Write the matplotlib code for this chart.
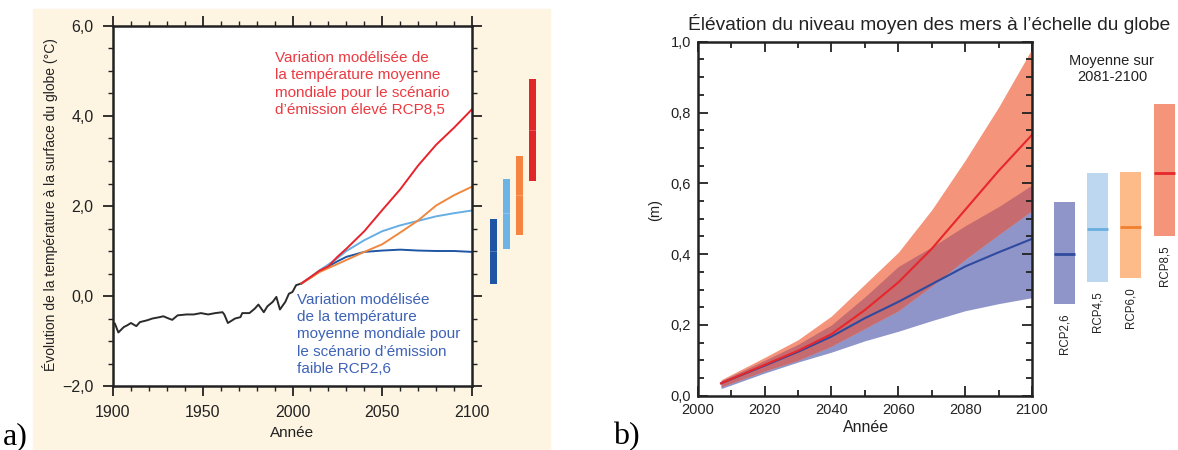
import numpy as np
import matplotlib
matplotlib.use("Agg")
import matplotlib.pyplot as plt
from matplotlib.patches import Rectangle
from matplotlib.ticker import MultipleLocator, FuncFormatter

plt.rcParams["font.family"] = ["Liberation Sans", "DejaVu Sans"]

# ──────────────────────────────────────────────────
# Panel a) : global surface temperature change (°C)
# ──────────────────────────────────────────────────
hist_years = [1900, 1901, 1903, 1906, 1908, 1910, 1913, 1915, 1919, 1922, 1926, 1928,
              1931, 1933, 1936, 1941, 1945, 1949, 1953, 1957, 1961, 1962, 1964, 1968,
              1971, 1972, 1976, 1979, 1981, 1984, 1986, 1989, 1991, 1993, 1996, 1998,
              2000, 2002, 2005]
hist_temp = [-0.61, -0.61, -0.81, -0.69, -0.65, -0.60, -0.67, -0.58, -0.54, -0.50, -0.47, -0.45,
             -0.50, -0.53, -0.43, -0.41, -0.41, -0.38, -0.41, -0.38, -0.36, -0.41, -0.60, -0.50,
             -0.47, -0.38, -0.38, -0.28, -0.19, -0.36, -0.23, -0.13, -0.02, -0.30, -0.13, 0.05,
             0.09, 0.24, 0.28]

proj_years = [2005, 2010, 2015, 2020, 2025, 2030, 2040, 2050, 2060, 2070, 2080, 2090, 2100]
rcp85_temp = [0.28, 0.42, 0.56, 0.66, 0.87, 1.05, 1.44, 1.91, 2.37, 2.90, 3.36, 3.74, 4.15]
rcp60_temp = [0.28, 0.40, 0.53, 0.62, 0.71, 0.80, 0.98, 1.15, 1.41, 1.68, 2.01, 2.24, 2.43]
rcp45_temp = [0.28, 0.42, 0.57, 0.70, 0.84, 1.00, 1.24, 1.44, 1.57, 1.67, 1.77, 1.84, 1.90]
rcp26_temp = [0.28, 0.41, 0.55, 0.66, 0.77, 0.87, 0.98, 1.01, 1.03, 1.01, 1.00, 1.00, 0.98]

# 2081-2100 ranges (low, high, mean), order RCP2.6, 4.5, 6.0, 8.5
temp_low = [0.27, 1.04, 1.36, 2.56]
temp_high = [1.71, 2.60, 3.11, 4.82]
temp_mean = [1.00, 1.84, 2.24, 3.69]

# ──────────────────────────────────────────────────
# Panel b) : global mean sea level rise (m)
# ──────────────────────────────────────────────────
sl_years = [2007, 2020, 2030, 2040, 2050, 2060, 2070, 2080, 2090, 2100]
rcp85_sl = [0.035, 0.087, 0.127, 0.174, 0.242, 0.320, 0.415, 0.525, 0.635, 0.737]
rcp85_hi = [0.045, 0.108, 0.158, 0.225, 0.315, 0.405, 0.525, 0.665, 0.815, 0.980]
rcp85_lo = [0.025, 0.070, 0.100, 0.140, 0.190, 0.240, 0.310, 0.385, 0.455, 0.523]
rcp26_sl = [0.035, 0.085, 0.124, 0.167, 0.219, 0.265, 0.315, 0.365, 0.405, 0.443]
rcp26_hi = [0.042, 0.100, 0.145, 0.200, 0.279, 0.365, 0.420, 0.480, 0.534, 0.595]
rcp26_lo = [0.020, 0.064, 0.095, 0.123, 0.155, 0.182, 0.212, 0.240, 0.260, 0.277]

scenarios = ["RCP2,6", "RCP4,5", "RCP6,0", "RCP8,5"]
sl_low = [0.259, 0.322, 0.332, 0.452]
sl_high = [0.546, 0.628, 0.633, 0.824]
sl_mean = [0.399, 0.470, 0.477, 0.628]

W, H = 1178, 450
fig = plt.figure(figsize=(W / 100, H / 100), dpi=100)

# beige frame behind panel a
fig.patches.append(Rectangle((33 / W, 0), (550 - 33) / W, (H - 9) / H,
                             transform=fig.transFigure, color="#fdf4e1", zorder=-10))

comma = FuncFormatter(lambda v, p: f"{v:.1f}".replace(".", ",").replace("-", "\u2212"))

# ---------------- panel a ----------------
ax = fig.add_axes([113 / W, 1 - 386 / H, (472 - 113) / W, 360 / H])
ax.set_facecolor("white")
ax.plot(hist_years, hist_temp, color="#2b2b2b", lw=1.4)
ax.plot(proj_years, rcp26_temp, color="#1f56a3", lw=1.4)
ax.plot(proj_years, rcp45_temp, color="#67aee3", lw=1.4)
ax.plot(proj_years, rcp60_temp, color="#f0873f", lw=1.4)
ax.plot(proj_years, rcp85_temp, color="#e8232b", lw=1.4)

bar_cols = ["#1f56a3", "#6cb3e6", "#f4843f", "#e1262a"]
for i in range(4):
    xc = 2112 + 7.3 * i
    ax.bar(xc, temp_high[i] - temp_low[i], bottom=temp_low[i], width=4.0,
           color=bar_cols[i], clip_on=False, zorder=3)
    # faint mean marker
    ax.plot([xc - 2, xc + 2], [temp_mean[i]] * 2, color="white", alpha=0.25, lw=0.6,
            clip_on=False, zorder=4)

ax.set_xlim(1900, 2100)
ax.set_ylim(-2, 6)
ax.xaxis.set_major_locator(MultipleLocator(50))
ax.xaxis.set_minor_locator(MultipleLocator(10))
ax.yaxis.set_major_locator(MultipleLocator(2))
ax.yaxis.set_minor_locator(MultipleLocator(0.5))
ax.yaxis.set_major_formatter(comma)
ax.tick_params(which="both", direction="out", top=True, right=True, width=1.3,
               labelsize=11.5, colors="#222222")
ax.tick_params(which="major", length=7, pad=7)
ax.tick_params(which="minor", length=3.5, width=1.0)
for s in ax.spines.values():
    s.set_linewidth(1.8)
    s.set_color("#222222")

ax.text(1990.2, 5.44, "Variation modélisée de\nla température moyenne\nmondiale pour le scénario\n"
        "d’émission élevé RCP8,5", color="#ec3a41", fontsize=11, va="top", ha="left",
        linespacing=1.3)
ax.text(2002.3, 0.07, "Variation modélisée\nde la température\nmoyenne mondiale pour\n"
        "le scénario d’émission\nfaible RCP2,6", color="#3d62b6", fontsize=11, va="top",
        ha="left", linespacing=1.3)

fig.text(50 / W, 1 - 205 / H, "Évolution de la température à la surface du globe (°C)",
         rotation=90, ha="center", va="center", fontsize=10, color="#222222")
fig.text(292 / W, 1 - 433 / H, "Année", ha="center", va="center", fontsize=11, color="#222222")
fig.text(3 / W, 1 - 444 / H, "a)", family="Liberation Serif", fontsize=23, ha="left",
         va="baseline")

# ---------------- panel b ----------------
bx = fig.add_axes([697.7 / W, 1 - 395.7 / H, (1032 - 697.7) / W, 354 / H])
overlap_lo = np.maximum(rcp85_lo, rcp26_lo)
overlap_hi = np.minimum(rcp85_hi, rcp26_hi)
bx.fill_between(sl_years, rcp26_lo, rcp26_hi, color="#8f95c9", lw=0)
bx.fill_between(sl_years, rcp85_lo, rcp85_hi, color="#f4947a", lw=0)
bx.fill_between(sl_years, overlap_lo, overlap_hi, color="#c66b6f", lw=0)
bx.plot(sl_years, rcp26_sl, color="#2f4a9e", lw=1.5)
bx.plot(sl_years, rcp85_sl, color="#e8262b", lw=1.5)

sl_bar_cols = ["#8f95c9", "#bcd7ef", "#fdbb8a", "#f4947a"]
sl_mean_cols = ["#2f4a9e", "#6aaee0", "#f0802f", "#e8262b"]
for i, name in enumerate(scenarios):
    xc = 2109.6 + 10 * i
    bx.bar(xc, sl_high[i] - sl_low[i], bottom=sl_low[i], width=6.3,
           color=sl_bar_cols[i], clip_on=False)
    bx.plot([xc - 3.15, xc + 3.15], [sl_mean[i]] * 2, color=sl_mean_cols[i], lw=2,
            clip_on=False, solid_capstyle="butt")
    bx.text(xc, sl_low[i] - 0.027, name, rotation=90, ha="center", va="top",
            fontsize=8.3, color="#222222", clip_on=False)

bx.text(2123.9, 0.965, "Moyenne sur\n2081-2100", ha="center", va="top", fontsize=10.5,
        color="#222222", linespacing=1.15)

bx.set_xlim(2000, 2100)
bx.set_ylim(0, 1)
bx.xaxis.set_major_locator(MultipleLocator(20))
bx.xaxis.set_minor_locator(MultipleLocator(10))
bx.yaxis.set_major_locator(MultipleLocator(0.2))
bx.yaxis.set_minor_locator(MultipleLocator(0.05))
bx.yaxis.set_major_formatter(comma)
bx.tick_params(which="both", direction="in", top=True, right=True, width=1.3,
               labelsize=10.5, colors="#222222")
bx.tick_params(which="major", length=7, pad=5)
bx.tick_params(which="minor", length=4.5)
for s in bx.spines.values():
    s.set_linewidth(1.8)
    s.set_color("#222222")

fig.text(655 / W, 1 - 210 / H, "(m)", rotation=90, ha="center", va="center",
         fontsize=10.5, color="#222222")
fig.text(866 / W, 1 - 428 / H, "Année", ha="center", va="center", fontsize=11.5,
         color="#222222")
fig.text(929 / W, 1 - 24 / H, "Élévation du niveau moyen des mers à l’échelle du globe",
         ha="center", va="center", fontsize=13.8, color="#222222")
fig.text(613 / W, 1 - 444 / H, "b)", family="Liberation Serif", fontsize=23, ha="left",
         va="baseline")

fig.savefig("out.png", dpi=100)
